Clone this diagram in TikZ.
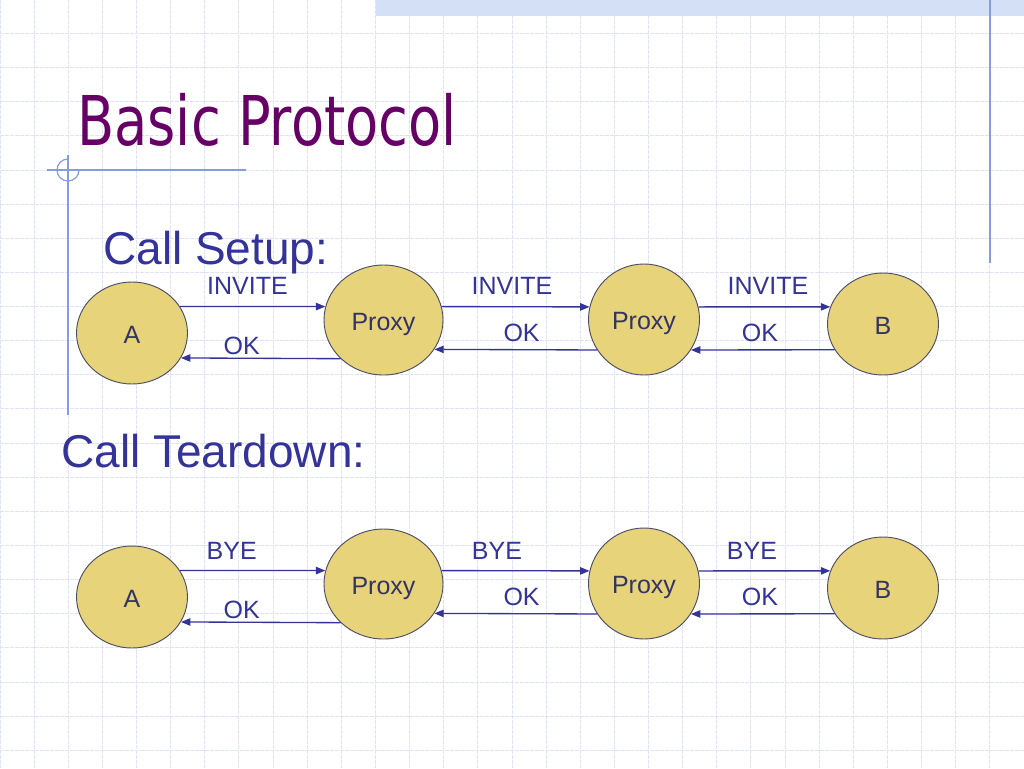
\documentclass[tikz,border=0pt]{standalone}
\usepackage{fontspec}
\setmainfont{Liberation Sans}
\newfontfamily\titlefont[FakeStretch=0.79]{DejaVu Sans}
\usetikzlibrary{arrows.meta}
\usetikzlibrary{shapes.geometric}

\definecolor{titlepurple}{RGB}{102,0,102}
\definecolor{headblue}{RGB}{51,51,153}
\definecolor{nodefill}{RGB}{231,211,122}
\definecolor{nodeline}{RGB}{77,77,102}
\definecolor{nodetext}{RGB}{51,51,102}
\definecolor{gridblue}{RGB}{224,227,245}
\definecolor{bandblue}{RGB}{212,224,246}
\definecolor{decoblue}{RGB}{135,155,225}

\begin{document}
\begin{tikzpicture}[x=0.75pt, y=-0.75pt,
    station/.style={ellipse, draw=nodeline, line width=0.7pt, fill=nodefill, inner sep=0pt, text=nodetext, font=\fontsize{18.75}{22}\selectfont, text height=15pt, text depth=0pt},
    msg/.style={draw=headblue, line width=1pt, -{Triangle[length=7pt,width=5.5pt]}},
    msglabel/.style={anchor=base, inner sep=0pt, text=headblue, font=\fontsize{18.75}{22}\selectfont},
    heading/.style={anchor=base west, inner sep=0pt, text=headblue, font=\fontsize{34.5}{40}\selectfont},
    gridline/.style={gridblue, line width=0.75pt, dash pattern=on 3pt off 0.75pt},
    deco/.style={decoblue, line width=0.9pt}]
      \fill[white] (0,0) rectangle (1024,768);
      \useasboundingbox (0,0) rectangle (1024,768);
      \foreach \gx in {0,...,30} \draw[gridline] ({\gx*34.1333},0) -- ({\gx*34.1333},768);
      \foreach \gy in {0,...,21} \draw[gridline] (0,{33.5+\gy*34.1333}) -- (1024,{33.5+\gy*34.1333});
      \fill[bandblue] (376,0) rectangle (1024,16);
      \draw[deco, line width=1.1pt] (990,0) -- (990,263);
      \draw[deco] (47,170) -- (246,170);
      \draw[deco] (68,155) -- (68,415);
      \draw[deco] (79,170) arc[start angle=0, end angle=270, radius=11];

      \node[anchor=base west, inner sep=0pt, text=titlepurple, font=\titlefont\fontsize{51.5}{60}\selectfont] (title) at (77,145) {Basic Protocol};
      \node[heading] (setup) at (103,264) {Call Setup:};
      \node[heading] (teardown) at (61,467) {Call Teardown:};

      \node[station, minimum width=83.25pt, minimum height=76.5pt] (sa) at (132,333) {A};
      \node[station, minimum width=89.25pt, minimum height=82.5pt] (sp1) at (383.5,320) {Proxy};
      \node[station, minimum width=83.25pt, minimum height=83.25pt] (sp2) at (644,319.5) {Proxy};
      \node[station, minimum width=83.25pt, minimum height=76.5pt] (sb) at (883,324) {B};

      \draw[msg] (sa.29) -- (sp1.167);
      \draw[msg] (sp1.222) -- (sa.-27);
      \draw[msg] (sp1.13) -- (sp2.167);
      \draw[msg] (sp2.213) -- (sp1.-30);
      \draw[msg] (sp2.13) -- (sb.162);
      \draw[msg] (sb.208) -- (sp2.-33);

      \node[msglabel] (sinv1) at (247.5,294.5) {INVITE};
      \node[msglabel] (sok1) at (241.7,354) {OK};
      \node[msglabel] (sinv2) at (512,294.5) {INVITE};
      \node[msglabel] (sok2) at (521.6,341) {OK};
      \node[msglabel] (sinv3) at (768,294.5) {INVITE};
      \node[msglabel] (sok3) at (760,341) {OK};

      \node[station, minimum width=83.25pt, minimum height=76.5pt] (ta) at (132,597) {A};
      \node[station, minimum width=89.25pt, minimum height=82.5pt] (tp1) at (383.5,584) {Proxy};
      \node[station, minimum width=83.25pt, minimum height=83.25pt] (tp2) at (644,583.5) {Proxy};
      \node[station, minimum width=83.25pt, minimum height=76.5pt] (tb) at (883,588) {B};

      \draw[msg] (ta.29) -- (tp1.167);
      \draw[msg] (tp1.222) -- (ta.-27);
      \draw[msg] (tp1.13) -- (tp2.167);
      \draw[msg] (tp2.213) -- (tp1.-30);
      \draw[msg] (tp2.13) -- (tb.162);
      \draw[msg] (tb.208) -- (tp2.-33);

      \node[msglabel] (tbye1) at (231.7,559) {BYE};
      \node[msglabel] (tok1) at (241.7,618.5) {OK};
      \node[msglabel] (tbye2) at (497,559) {BYE};
      \node[msglabel] (tok2) at (521.6,605) {OK};
      \node[msglabel] (tbye3) at (752,559) {BYE};
      \node[msglabel] (tok3) at (760,605) {OK};
\end{tikzpicture}
\end{document}
